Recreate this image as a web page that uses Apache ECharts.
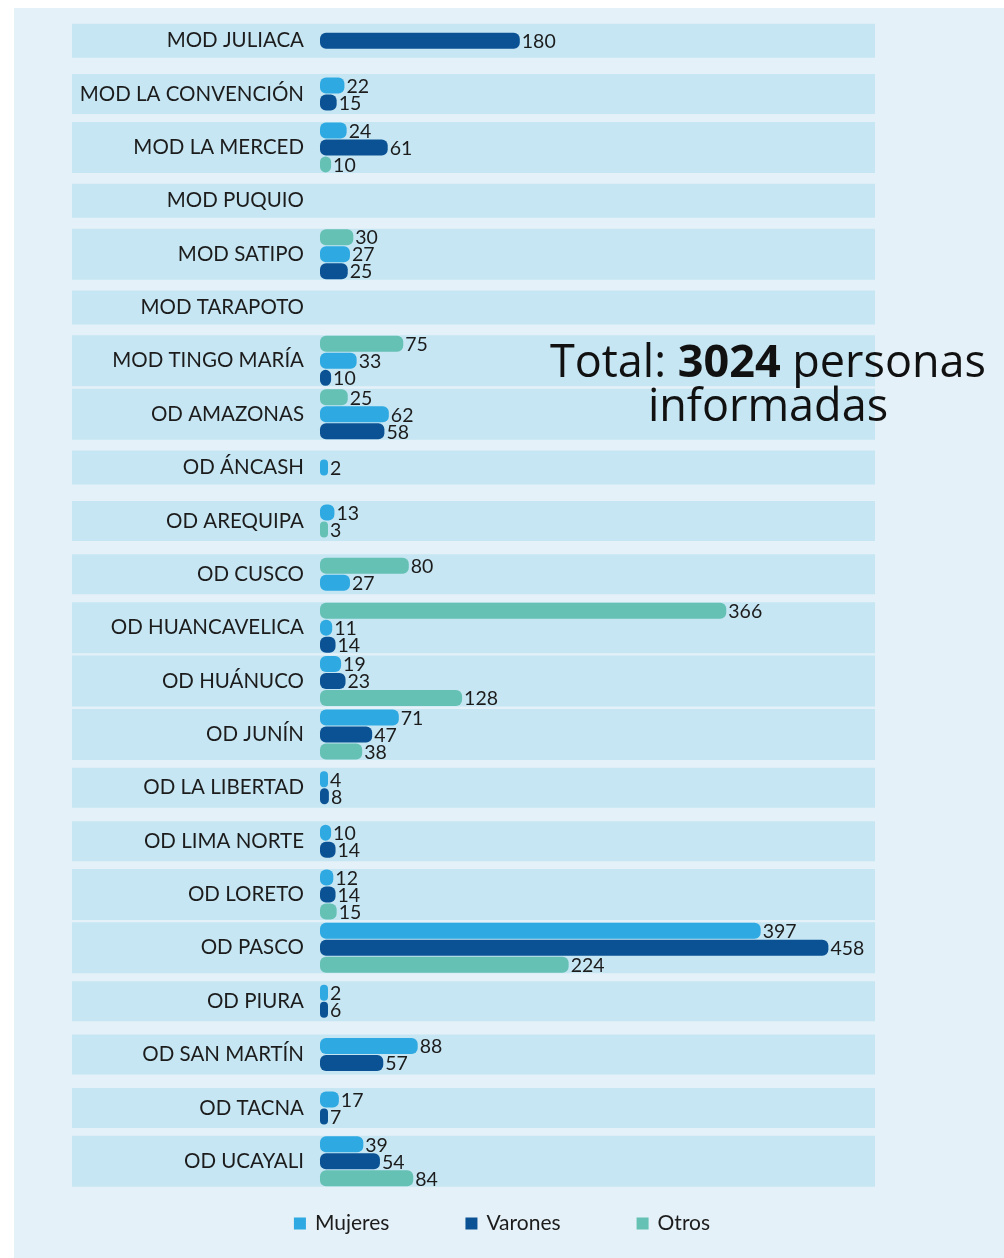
<!DOCTYPE html>
<html>
<head>
<meta charset="utf-8">
<script src="https://cdn.jsdelivr.net/npm/echarts@6/dist/echarts.min.js"></script>
<style>
  html, body { margin: 0; padding: 0; background: #ffffff; }
  #chart { width: 1004px; height: 1258px; }
</style>
</head>
<body>
<div id="chart"></div>
<script>
const categorias = [
  'MOD JULIACA', 'MOD LA CONVENCIÓN', 'MOD LA MERCED', 'MOD PUQUIO', 'MOD SATIPO',
  'MOD TARAPOTO', 'MOD TINGO MARÍA', 'OD AMAZONAS', 'OD ÁNCASH', 'OD AREQUIPA',
  'OD CUSCO', 'OD HUANCAVELICA', 'OD HUÁNUCO', 'OD JUNÍN', 'OD LA LIBERTAD',
  'OD LIMA NORTE', 'OD LORETO', 'OD PASCO', 'OD PIURA', 'OD SAN MARTÍN',
  'OD TACNA', 'OD UCAYALI'
]
const mujeres = [null, 22, 24, null, 27, null, 33, 62, 2, 13, 27, 11, 19, 71, 4, 10, 12, 397, 2, 88, 17, 39]
const varones = [180, 15, 61, null, 25, null, 10, 58, null, null, null, 14, 23, 47, 8, 14, 14, 458, 6, 57, 7, 54]
const otros = [null, null, 10, null, 30, null, 75, 25, null, 3, 80, 366, 128, 38, null, null, 15, 224, null, null, null, 84]
// orden de las barras dentro de cada oficina (M = mujeres, V = varones, O = otros)
const orden = ['V', 'MV', 'MVO', '', 'OMV', '', 'OMV', 'OMV', 'M', 'MO', 'OM', 'OMV', 'MVO', 'MVO', 'MV', 'MV', 'MVO', 'MVO', 'MV', 'MV', 'MV', 'MVO']
const totalPersonas = 3024

const FONT = 'Lato'
const PITCH = 17
const BAR_H = 16

const chart = echarts.init(document.getElementById('chart'))

function barSeries(name, key, values, color) {
  return {
    name: name,
    type: 'custom',
    coordinateSystem: 'cartesian2d',
    itemStyle: { color: color },
    z: 3,
    encode: { x: 0, y: 1 },
    data: values.map((v, i) => v == null ? null : [v, i]).filter(d => d),
    renderItem(params, api) {
      const val = api.value(0)
      const idx = api.value(1)
      const ord = orden[idx]
      const pos = ord.indexOf(key)
      const n = ord.length
      const start = api.coord([0, idx])
      const end = api.coord([val, idx])
      const cy = start[1] + (pos - (n - 1) / 2) * PITCH
      const w = Math.max(end[0] - start[0], 8)
      return {
        type: 'group',
        children: [{
          type: 'rect',
          shape: { x: start[0], y: cy - BAR_H / 2, width: w, height: BAR_H, r: 6 },
          style: { fill: color }
        }, {
          type: 'text',
          x: start[0] + w + 2,
          y: cy + 1,
          style: {
            text: String(val),
            fill: '#1c1c1c',
            font: '19.5px ' + FONT,
            textAlign: 'left',
            textVerticalAlign: 'middle'
          }
        }]
      }
    }
  }
}

const bandas = {
  type: 'custom',
  coordinateSystem: 'cartesian2d',
  silent: true,
  z: 1,
  encode: { x: 0, y: 1 },
  data: categorias.map((c, i) => [0, i]),
  renderItem(params, api) {
    const idx = api.value(1)
    const p = api.coord([0, idx])
    const cs = params.coordSys
    const h = Math.min(Math.max(34, orden[idx].length * PITCH + 6), 51)
    return {
      type: 'rect',
      shape: { x: cs.x - 248, y: p[1] - h / 2, width: cs.width + 248, height: h },
      style: { fill: '#c6e6f3' }
    }
  }
}

chart.setOption({
  backgroundColor: '#ffffff',
  animation: false,
  textStyle: { fontFamily: FONT },
  graphic: [{
    type: 'rect',
    z: -10,
    shape: { x: 14, y: 8, width: 990, height: 1250 },
    style: { fill: '#e4f1f8' }
  }, {
    type: 'text',
    z: 10,
    x: 768,
    y: 342,
    style: {
      text: '{a|Total: }{b|' + totalPersonas + '}{a| personas}\n{a|informadas}',
      textAlign: 'center',
      rich: {
        a: { fontSize: 45, fontFamily: 'Open Sans', fill: '#111111', lineHeight: 44 },
        b: { fontSize: 45, fontFamily: 'Open Sans', fontWeight: 'bold', fill: '#111111', lineHeight: 44 }
      }
    }
  }],
  legend: {
    data: ['Mujeres', 'Varones', 'Otros'],
    bottom: 19,
    left: 'center',
    icon: 'rect',
    itemWidth: 12,
    itemHeight: 12,
    itemGap: 76,
    textStyle: { fontSize: 21, color: '#1c1c1c', fontFamily: FONT, padding: [0, 0, 0, 4] }
  },
  grid: { left: 320, right: 129, top: 14, bottom: 70 },
  xAxis: {
    type: 'value',
    min: 0,
    max: 500,
    show: false
  },
  yAxis: {
    type: 'category',
    inverse: true,
    data: categorias,
    z: 10,
    axisLine: { show: false },
    axisTick: { show: false },
    splitLine: { show: false },
    axisLabel: { fontSize: 20.5, color: '#1c1c1c', margin: 16, fontFamily: FONT }
  },
  series: [
    bandas,
    barSeries('Mujeres', 'M', mujeres, '#2ea9e1'),
    barSeries('Varones', 'V', varones, '#0a5294'),
    barSeries('Otros', 'O', otros, '#66c1b5')
  ]
})
</script>
</body>
</html>
